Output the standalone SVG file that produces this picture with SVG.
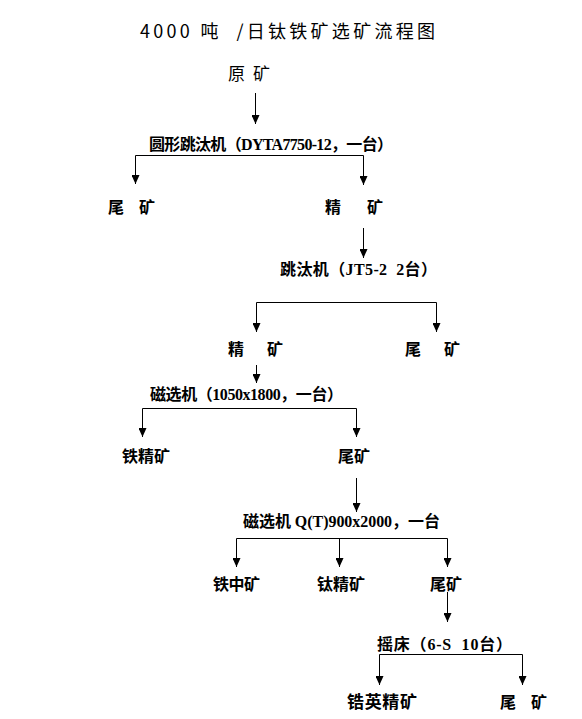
<svg xmlns="http://www.w3.org/2000/svg" width="582" height="719" viewBox="0 0 582 719">
<style>
text{font-family:"Liberation Serif","Noto Sans CJK SC",serif;fill:#000;white-space:pre}
.t{font-size:18px;font-family:"Noto Sans CJK SC",sans-serif;font-weight:400}
.r{font-size:17px;font-family:"Noto Sans CJK SC",sans-serif;font-weight:400}
.b{font-size:16px;font-weight:bold}
.c path{stroke:#000;stroke-width:1;fill:none}
.a{marker-end:url(#ah)}
</style>
<defs>
<marker id="ah" markerUnits="userSpaceOnUse" markerWidth="9" markerHeight="8" refX="9" refY="4" orient="auto" viewBox="0 0 9 8">
<path d="M0,0 L9,4 L0,8 Z" fill="#000"/>
</marker>
</defs>
<rect width="582" height="719" fill="#fff"/>
<g id="title"><text class="t" x="140" y="38" textLength="295" lengthAdjust="spacing">4000 吨  /日钛铁矿选矿流程图</text></g>
<g id="n-raw"><text class="r" x="228" y="80" textLength="42">原矿</text></g>
<g id="n-jig1"><text class="b" x="149" y="150" textLength="244" lengthAdjust="spacing">圆形跳汰机（DYTA7750-12，一台）</text></g>
<g id="n-tail1"><text class="b" x="108" y="213" textLength="47">尾　矿</text></g>
<g id="n-conc1"><text class="b" x="325" y="213" textLength="58">精　矿</text></g>
<g id="n-jig2"><text class="b" x="280" y="275" textLength="157">跳汰机（JT5-2  2台）</text></g>
<g id="n-conc2"><text class="b" x="228" y="355" textLength="55">精　矿</text></g>
<g id="n-tail2"><text class="b" x="405" y="355" textLength="55">尾　矿</text></g>
<g id="n-mag1"><text class="b" x="150" y="400" textLength="193">磁选机（1050x1800，一台）</text></g>
<g id="n-fe"><text class="b" x="122" y="462" textLength="48">铁精矿</text></g>
<g id="n-tail3"><text class="b" x="338" y="462" textLength="32">尾矿</text></g>
<g id="n-mag2"><text class="b" x="243" y="527" textLength="197">磁选机 Q(T)900x2000，一台</text></g>
<g id="n-femid"><text class="b" x="213" y="590" textLength="47">铁中矿</text></g>
<g id="n-ti"><text class="b" x="317" y="590" textLength="48">钛精矿</text></g>
<g id="n-tail4"><text class="b" x="430" y="590" textLength="32">尾矿</text></g>
<g id="n-table"><text class="b" x="377" y="650" textLength="135">摇床（6-S  10台）</text></g>
<g id="n-zr"><text class="b" x="347" y="708" textLength="70" style="font-size:17px">锆英精矿</text></g>
<g id="n-tail5"><text class="b" x="500" y="708" textLength="47">尾　矿</text></g>
<g id="connectors" class="c">
<path d="M255.5,93 V124" class="a"/>
<path d="M135.5,155.5 H363.5"/>
<path d="M135.5,155.5 V184" class="a"/>
<path d="M363.5,155.5 V185" class="a"/>
<path d="M363.5,228 V258" class="a"/>
<path d="M256.5,302.5 H436.5"/>
<path d="M256.5,302.5 V332" class="a"/>
<path d="M436.5,302.5 V332" class="a"/>
<path d="M256.5,365 V383" class="a"/>
<path d="M142.5,408.5 H356.5"/>
<path d="M142.5,408.5 V437" class="a"/>
<path d="M356.5,408.5 V437" class="a"/>
<path d="M356.5,478 V512" class="a"/>
<path d="M236.5,538.5 H447.5"/>
<path d="M236.5,538.5 V567" class="a"/>
<path d="M339.5,538.5 V567" class="a"/>
<path d="M447.5,538.5 V567" class="a"/>
<path d="M447.5,592 V622" class="a"/>
<path d="M379.5,654.5 H522.5"/>
<path d="M379.5,654.5 V685" class="a"/>
<path d="M522.5,654.5 V685" class="a"/>
</g>
</svg>
